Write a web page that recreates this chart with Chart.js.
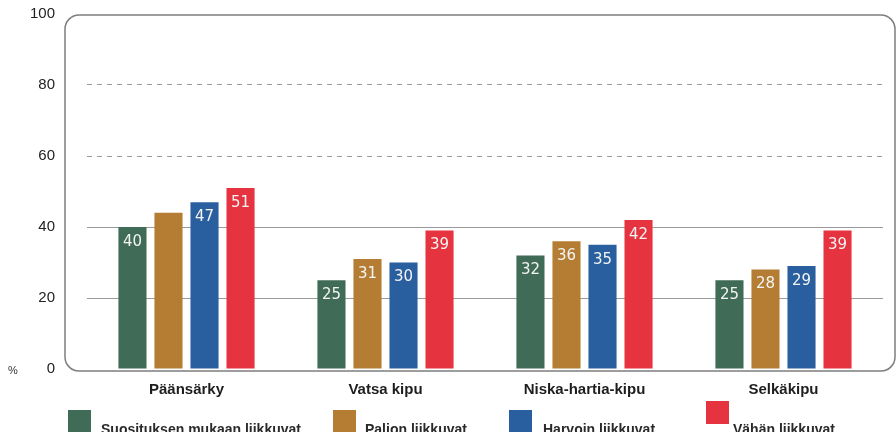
<!DOCTYPE html>
<html>
<head>
<meta charset="utf-8">
<script src="https://cdn.jsdelivr.net/npm/chart.js@4.4.1/dist/chart.umd.min.js"></script>
<style>
    html, body { margin: 0; padding: 0; background: #ffffff; }
    #wrap { width: 896px; height: 432px; position: relative; }
</style>
</head>
<body>
<div id="wrap"><canvas id="kipuChart"></canvas></div>
<script>
const categories = ['Päänsärky', 'Vatsa kipu', 'Niska-hartia-kipu', 'Selkäkipu'];
const seriesNames = ['Suosituksen mukaan liikkuvat', 'Palion liikkuvat', 'Harvoin liikkuvat', 'Vähän liikkuvat'];
const suosituksen = [40, 25, 32, 25];
const palion = [44, 31, 36, 28];
const harvoin = [47, 30, 35, 29];
const vahan = [51, 39, 42, 39];
const yTicks = [0, 20, 40, 60, 80, 100];
// the one value whose label is missing in the original (Palion, Päänsärky)
const hiddenLabels = [[1, 0]];

const colors = ['#3f6b57', '#b47d33', '#2a5f9f', '#e63340'];
const narrow = "'Liberation Sans Narrow', 'Arial Narrow', 'Liberation Sans', sans-serif";

// rounded frame, "%" mark, value labels and a hand placed legend like the scanned original
const decorations = {
    id: 'decorations',
    beforeDatasetsDraw(chart) {
        const ctx = chart.ctx;
        ctx.save();
        ctx.strokeStyle = '#7d7d7d';
        ctx.lineWidth = 1.5;
        ctx.beginPath();
        ctx.roundRect(65, 15, 830, 356, 14);
        ctx.stroke();
        ctx.restore();
    },
    afterDatasetsDraw(chart) {
        const ctx = chart.ctx;
        ctx.save();
        ctx.fillStyle = '#f4f4f4';
        ctx.font = '15px "DejaVu Sans", sans-serif';
        ctx.textAlign = 'center';
        ctx.textBaseline = 'middle';
        chart.data.datasets.forEach((ds, di) => {
            chart.getDatasetMeta(di).data.forEach((bar, i) => {
                if (hiddenLabels.some(h => h[0] === di && h[1] === i)) return;
                ctx.fillText(String(ds.data[i]), bar.x, bar.y + 15);
            });
        });
        ctx.restore();
    },
    afterDraw(chart) {
        const ctx = chart.ctx;
        ctx.save();
        ctx.fillStyle = '#333';
        ctx.font = '11px "Liberation Sans", sans-serif';
        ctx.textAlign = 'center';
        ctx.textBaseline = 'middle';
        ctx.fillText('%', 13, 371);

        const boxX = [68, 333, 509, 706];
        const boxY = [410, 410, 410, 401];
        const textX = [101, 365, 543, 733];
        ctx.font = 'bold 14px "Liberation Sans", sans-serif';
        ctx.textAlign = 'left';
        ctx.textBaseline = 'alphabetic';
        chart.data.datasets.forEach((ds, i) => {
            ctx.fillStyle = ds.backgroundColor;
            ctx.fillRect(boxX[i], boxY[i], 23, 23);
            ctx.fillStyle = '#2a2a2a';
            ctx.fillText(ds.label, textX[i], 434);
        });
        ctx.restore();
    }
};

const datasets = [suosituksen, palion, harvoin, vahan].map((vals, i) => ({
    label: seriesNames[i],
    data: vals,
    backgroundColor: colors[i],
    borderWidth: 0,
    categoryPercentage: 0.724,
    barPercentage: 0.78
}));

new Chart(document.getElementById('kipuChart'), {
    type: 'bar',
    data: { labels: categories, datasets: datasets },
    options: {
        responsive: true,
        maintainAspectRatio: false,
        animation: false,
        layout: { padding: { top: 14, right: 13, bottom: 0, left: 0 } },
        plugins: {
            legend: { display: false },
            tooltip: { enabled: false }
        },
        scales: {
            x: {
                grid: { display: false, drawTicks: false },
                border: { display: false },
                afterFit(scale) { scale.height = 63; },
                ticks: {
                    color: '#1e1e1e',
                    padding: 12,
                    font: { family: narrow, size: 15, weight: 'bold' }
                }
            },
            y: {
                min: 0,
                max: 100,
                afterFit(scale) {
                    scale.width = 87;
                    scale.paddingTop = 0;
                    scale.paddingBottom = 0;
                },
                afterBuildTicks(scale) { scale.ticks = yTicks.map(v => ({ value: v })); },
                grid: {
                    drawTicks: false,
                    color: ctx => (ctx.tick && (ctx.tick.value === 0 || ctx.tick.value === 100)) ? 'rgba(0,0,0,0)' : '#9a9a9a',
                    lineWidth: 1
                },
                border: {
                    display: false,
                    dash: ctx => (ctx.tick && ctx.tick.value >= 60) ? [5, 5] : []
                },
                ticks: {
                    color: '#222',
                    padding: 32,
                    font: { family: "'Liberation Sans', sans-serif", size: 15 }
                }
            }
        }
    },
    plugins: [decorations]
});
</script>
</body>
</html>
